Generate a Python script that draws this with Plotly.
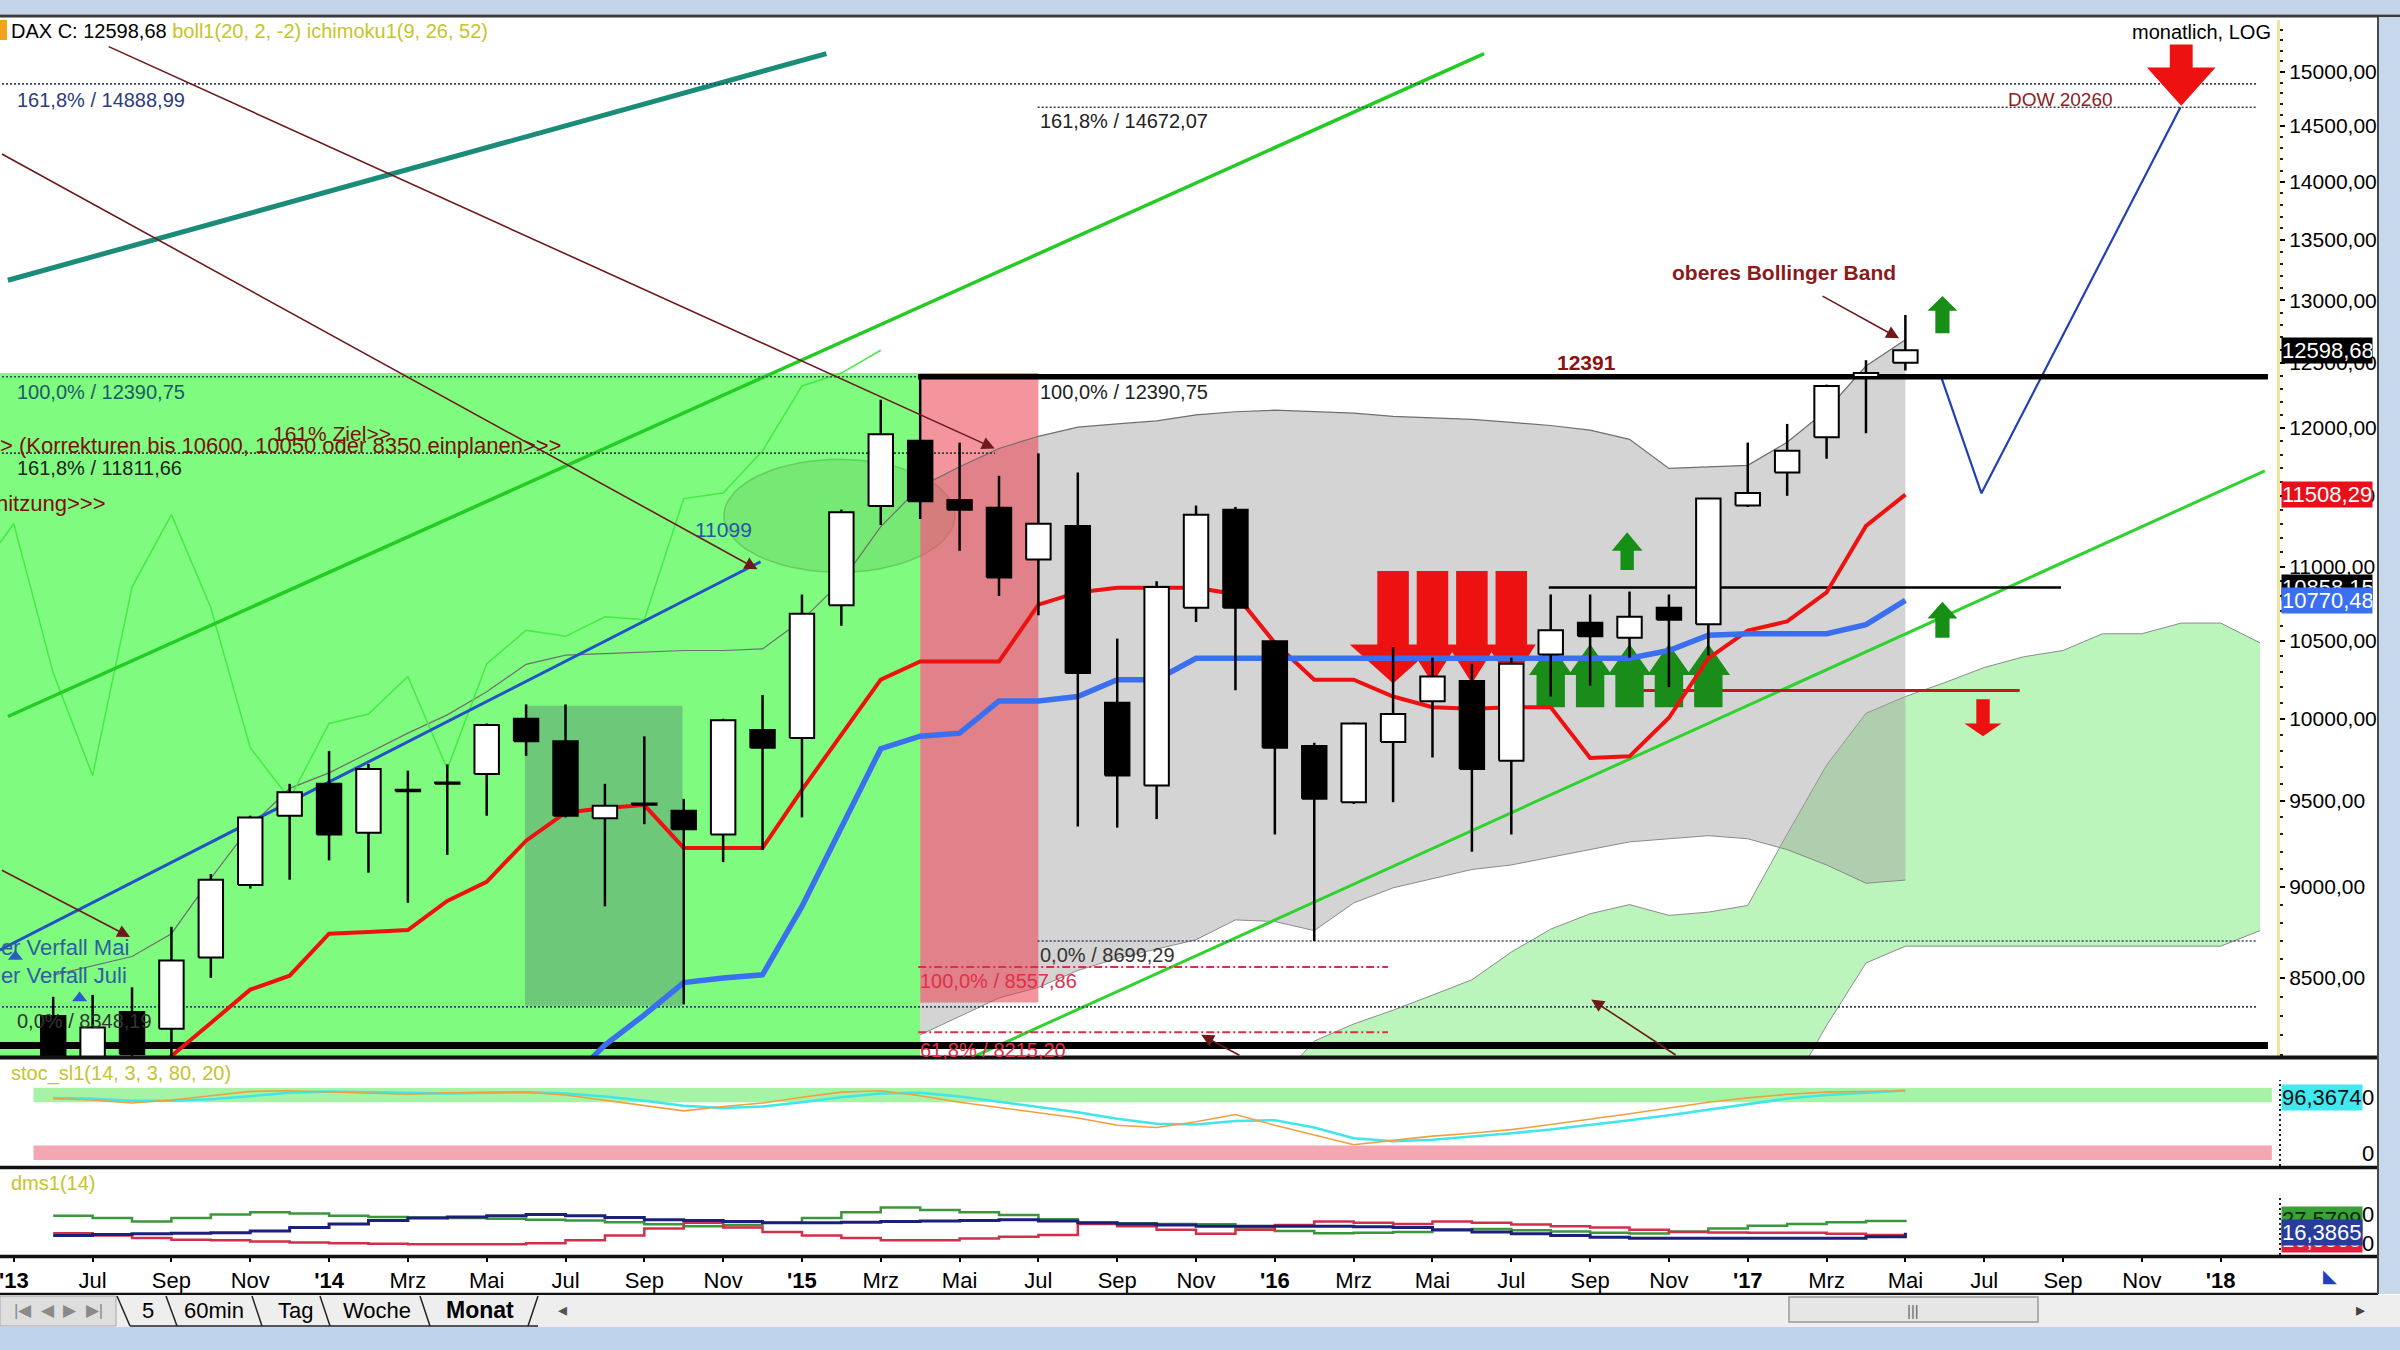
import math
import plotly.graph_objects as go

NARROW = "Liberation Sans Narrow, Arial Narrow, sans-serif"
SANS = "Liberation Sans, Arial, sans-serif"
L10 = math.log10

# ---------------- data ----------------
MONTHS = ["2013-06", "2013-07", "2013-08", "2013-09", "2013-10", "2013-11", "2013-12",
          "2014-01", "2014-02", "2014-03", "2014-04", "2014-05", "2014-06", "2014-07", "2014-08",
          "2014-09", "2014-10", "2014-11", "2014-12",
          "2015-01", "2015-02", "2015-03", "2015-04", "2015-05", "2015-06", "2015-07", "2015-08",
          "2015-09", "2015-10", "2015-11", "2015-12",
          "2016-01", "2016-02", "2016-03", "2016-04", "2016-05", "2016-06", "2016-07", "2016-08",
          "2016-09", "2016-10", "2016-11", "2016-12",
          "2017-01", "2017-02", "2017-03", "2017-04", "2017-05"]

OPEN = [8300, 7959, 8320, 8234, 8610, 9010, 9410,
        9600, 9310, 9565, 9608, 9660, 10000, 9860, 9395, 9483, 9440, 9300, 9930,
        9880, 10738, 11427, 11903, 11470, 11415, 11050, 11285, 10100, 9590, 10720, 11400,
        10497, 9830, 9490, 9855, 10110, 10240, 9740, 10410, 10620, 10520, 10720, 10610,
        11430, 11670, 11930, 12390, 12500]
HIGH = [8400, 8410, 8450, 8777, 9072, 9410, 9600,
        9800, 9720, 9680, 9718, 9970, 10090, 10090, 9600, 9890, 9510, 10000, 10150,
        10810, 11401, 12214, 12391, 11890, 11645, 11810, 11670, 10515, 10900, 11430, 11420,
        10500, 9850, 9975, 10460, 10390, 10350, 10390, 10810, 10810, 10830, 10810, 11481,
        11890, 12030, 12330, 12520, 12880]
LOW = [7655, 7870, 8073, 8094, 8500, 8990, 9040,
       9150, 9080, 8910, 9182, 9410, 9770, 9400, 8890, 9360, 8360, 9140, 9210,
       9400, 10600, 11291, 11334, 11110, 10800, 10670, 9346, 9340, 9390, 10625, 10180,
       9300, 8699, 9480, 9490, 9760, 9200, 9300, 10140, 10210, 10390, 10200, 10405,
       11420, 11500, 11770, 11960, 12440]
CLOSE = [7959, 8240, 8103, 8594, 9040, 9400, 9550,
         9300, 9690, 9555, 9600, 9960, 9860, 9410, 9469, 9475, 9330, 9990, 9820,
         10680, 11382, 11952, 11460, 11400, 10925, 11300, 10290, 9650, 10860, 11365, 10720,
         9820, 9510, 9970, 10029, 10268, 9690, 10350, 10570, 10530, 10660, 10640, 11480,
         11520, 11830, 12320, 12420, 12598.68]

# Ichimoku Tenkan (red) / Kijun (blue), aligned with MONTHS
TENKAN = [None, None, 7800, 8094, 8263, 8438, 8512,
          8739, 8748, 8759, 8920, 9028, 9264, 9428, 9455, 9473, 9222, 9222, 9222,
          9564, 9900, 10248, 10366, 10366, 10366, 10741, 10824, 10855, 10855, 10855, 10812,
          10486, 10248, 10248, 10140, 10072, 10062, 10072, 10072, 9757, 9767, 10006, 10386,
          10568, 10629, 10824, 11285, 11508.29]
KIJUN = [None, None, None, None, None, None, None,
         None, None, None, None, None, None, 7950, 8150, 8305, 8475, 8500, 8517,
         8890, 9347, 9814, 9891, 9910, 10112, 10112, 10140, 10248, 10248, 10386, 10386,
         10386, 10386, 10386, 10386, 10386, 10386, 10386, 10386, 10386, 10386, 10437, 10537,
         10547, 10547, 10547, 10608, 10770.48]
# Bollinger bands
BB_UP = [8515, 8565, 8615, 8739, 9047, 9347, 9573,
         9666, 9786, 9910, 10024, 10170, 10347, 10407, 10417, 10427, 10437, 10437, 10447,
         10638, 10897, 11280, 11565, 11711, 11846, 11937, 12006, 12030, 12053, 12099, 12122,
         12134, 12122, 12111, 12087, 12076, 12064, 12041, 12018, 11983, 11914, 11699, 11711,
         11722, 11892, 12134, 12475, 12681]
BB_LOW = [None] * 22 + [8202, 8298, 8394, 8450, 8540, 8605, 8655, 8706, 8815,
                        8806, 8756, 8909, 8994, 9047, 9098, 9124, 9168, 9212, 9257, 9275, 9293,
                        9275, 9212, 9124, 9020, 9038]

# Ichimoku cloud (projected)
CLOUD_MONTHS = ["2016-01", "2016-02", "2016-03", "2016-04", "2016-05", "2016-06", "2016-07",
                "2016-08", "2016-09", "2016-10", "2016-11", "2016-12",
                "2017-01", "2017-02", "2017-03", "2017-04", "2017-05", "2017-06", "2017-07",
                "2017-08", "2017-09", "2017-10", "2017-11", "2017-12", "2018-01", "2018-02"]
CLOUD_HI = [7950, 8170, 8258, 8330, 8409, 8490, 8639, 8764, 8849, 8900, 8840, 8858,
            8895, 9302, 9713, 10034, 10140, 10229, 10326, 10396, 10437, 10547, 10547, 10618, 10618, 10487]
CLOUD_LO = [7900] * 14 + [8250, 8580, 8671, 8671, 8671, 8671, 8671, 8671, 8671, 8671, 8671, 8756]

# Stochastic
STOCH_K = [85, 83, 79, 83, 89, 95, 96, 94, 92, 91, 93, 94, 94, 90, 83, 75, 68, 74, 79,
           87, 94, 96, 89, 80, 73, 66, 58, 48, 45, 53, 63, 48, 35, 21, 27, 33, 37, 42, 49,
           56, 64, 72, 80, 86, 91, 94, 95, 96]
STOCH_D = [86, 85, 82, 82, 84, 89, 93, 95, 94, 92, 92, 93, 94, 92, 88, 82, 75, 72, 74,
           80, 87, 92, 93, 88, 81, 73, 66, 57, 50, 49, 54, 55, 45, 30, 26, 28, 32, 37, 42,
           48, 55, 62, 70, 78, 85, 90, 93, 96.37]
# DMS
DMS_PLUS = [31, 29, 26, 29, 32, 34, 33, 31, 30, 29.5, 29, 28.5, 27.6, 27, 25.5, 23.7, 22, 23, 25,
            29, 34, 38, 36, 34, 31.6, 28, 25, 24.5, 24, 23.7, 21, 18, 16, 16.5, 17, 18.5, 19.7,
            18.5, 17.5, 16.5, 15.8, 17.5, 20, 22.5, 24, 25.5, 26.5, 27.57]
DMS_ADX = [14, 15, 15.5, 16, 16.5, 18, 21, 24, 27, 29, 30, 31, 32, 31, 29.5, 27.6, 27, 26, 25,
           25, 25.5, 26, 26.5, 27, 27.6, 26.5, 25, 24, 23, 22, 22, 22, 22, 21.5, 21, 19, 17,
           15.5, 14, 12.5, 11.8, 11.8, 11.8, 11.8, 11.8, 11.8, 13, 16.39]
DMS_MINUS = [16, 14, 12, 10.5, 10, 9, 8, 7.5, 7, 6.6, 6.6, 6.6, 7.5, 10, 14, 20, 25, 21, 17,
             14, 12, 10, 10, 11.5, 13, 14.5, 24, 22, 19, 15.5, 19, 23, 26, 25, 24, 26, 25,
             23.5, 22, 21, 19, 17, 16.7, 16.5, 16.4, 15.5, 14.5, 13.7]

TICK_MONTHS = ["2013-05", "2013-07", "2013-09", "2013-11", "2014-01", "2014-03", "2014-05",
               "2014-07", "2014-09", "2014-11", "2015-01", "2015-03", "2015-05", "2015-07",
               "2015-09", "2015-11", "2016-01", "2016-03", "2016-05", "2016-07", "2016-09",
               "2016-11", "2017-01", "2017-03", "2017-05", "2017-07", "2017-09", "2017-11", "2018-01"]
TICK_TEXT = ["<b>'13</b>", "Jul", "Sep", "Nov", "<b>'14</b>", "Mrz", "Mai", "Jul", "Sep", "Nov",
             "<b>'15</b>", "Mrz", "Mai", "Jul", "Sep", "Nov", "<b>'16</b>", "Mrz", "Mai", "Jul",
             "Sep", "Nov", "<b>'17</b>", "Mrz", "Mai", "Jul", "Sep", "Nov", "<b>'18</b>"]
PRICE_TICKS = [8500, 9000, 9500, 10000, 10500, 11000, 11500, 12000, 12500, 13000, 13500,
               14000, 14500, 15000]

# drawn analysis objects (month index, price)
GREEN_ZONE_M, GREEN_ZONE_V = [3.0, 27.0], [7900, 12420]
DARK_ZONE_M, DARK_ZONE_V = [16.97, 20.97], [8353, 10082]
RED_ZONE_M, RED_ZONE_V = [27.0, 30.0], [8370, 12420]
ELLIPSE_M, ELLIPSE_V = [22.02, 27.88], [10961, 11766]
TEAL_M, TEAL_V = [3.85, 24.62], [13164, 15174]
GREEN_UP_M, GREEN_UP_V = [3.85, 41.31], [10014, 15174]
GREEN_LOW_M, GREEN_LOW_V = [27.73, 61.12], [8034, 11681]
BLUE_M, BLUE_V = [3.0, 22.95], [8580, 11034]
FORECAST_M, FORECAST_V = [52.89, 53.93, 58.98], [12405, 11518, 14672]

ARW_M = [59.0, 52.94, 44.94, 52.94, 53.97]
ARW_TAIL = [15261, 12733, 10977, 10520, 10123]
ARW_BASE = [15043, 12914, 11111, 10648, 9970]
ARW_TIP = [14687, 13034, 11241, 10761, 9890]
ARW_HEAD = [0.87, 0.38, 0.39, 0.38, 0.47]
ARW_SHAFT = [0.29, 0.18, 0.17, 0.18, 0.17]
ARW_COLOR = ["#ee1111", "#178f17", "#178f17", "#178f17", "#ee1111"]
RED_BLOCK_M = [39, 40, 41, 42]
GREEN_BLOCK_M = [43, 44, 45, 46, 47]


def midx(s):
    y, mo = s.split("-")
    return (int(y) - 2013) * 12 + int(mo) - 1


M = [midx(s) for s in MONTHS]
CM = [midx(s) for s in CLOUD_MONTHS]
TM = [midx(s) for s in TICK_MONTHS]

X0, X1 = 3.65, 61.43
Y0, Y1 = 8094, 15497

fig = go.Figure()


def line(xs, ys, color, width, dash=None, xa="x", ya="y", shape="linear"):
    fig.add_trace(go.Scatter(x=xs, y=ys, mode="lines", xaxis=xa, yaxis=ya, hoverinfo="skip",
                             line=dict(color=color, width=width, dash=dash, shape=shape)))


def zone(ms, vs, color):
    fig.add_trace(go.Scatter(x=[ms[0], ms[1], ms[1], ms[0], ms[0]],
                             y=[vs[0], vs[0], vs[1], vs[1], vs[0]], mode="lines",
                             line=dict(width=0), fill="toself", fillcolor=color, hoverinfo="skip"))


# zones
zone(GREEN_ZONE_M, GREEN_ZONE_V, "#7ffb7f")
zone(DARK_ZONE_M, DARK_ZONE_V, "#6ec87a")
# ellipse outline (geometry of the drawn marker)
cx = sum(ELLIPSE_M) / 2
rx = (ELLIPSE_M[1] - ELLIPSE_M[0]) / 2
cy = (L10(ELLIPSE_V[0]) + L10(ELLIPSE_V[1])) / 2
ry = (L10(ELLIPSE_V[1]) - L10(ELLIPSE_V[0])) / 2
ex = [cx + rx * math.cos(2 * math.pi * k / 72) for k in range(73)]
ey = [10 ** (cy + ry * math.sin(2 * math.pi * k / 72)) for k in range(73)]
fig.add_trace(go.Scatter(x=ex, y=ey, mode="lines", line=dict(color="rgba(80,160,70,0.45)", width=1.5),
                         fill="toself", fillcolor="rgba(95,185,85,0.28)", hoverinfo="skip"))

# Ichimoku cloud
fig.add_trace(go.Scatter(x=CM, y=CLOUD_LO, mode="lines", line=dict(color="#8c8c8c", width=1),
                         hoverinfo="skip"))
fig.add_trace(go.Scatter(x=CM, y=CLOUD_HI, mode="lines", line=dict(color="#8c8c8c", width=1),
                         fill="tonexty", fillcolor="rgba(150,240,150,0.65)", hoverinfo="skip"))
# Bollinger fill
bm = [m for m, v in zip(M, BB_LOW) if v is not None]
bl = [v for v in BB_LOW if v is not None]
bu = [u for u, v in zip(BB_UP, BB_LOW) if v is not None]
fig.add_trace(go.Scatter(x=bm, y=bl, mode="lines", line=dict(color="#8a8a8a", width=1),
                         hoverinfo="skip"))
fig.add_trace(go.Scatter(x=bm, y=bu, mode="lines", line=dict(color="#8a8a8a", width=0),
                         fill="tonexty", fillcolor="rgba(160,160,160,0.45)", hoverinfo="skip"))
# red zone
zone(RED_ZONE_M, RED_ZONE_V, "rgba(235,60,75,0.55)")
# upper band line & chikou
line(M, BB_UP, "#6f6f6f", 1.2)
line([m - 26 for m in M], CLOSE, "#45ea45", 1.5)
# trend lines
line(TEAL_M, TEAL_V, "#1b8c78", 5)
line(GREEN_UP_M, GREEN_UP_V, "#22cc22", 3.5)
line(GREEN_LOW_M, GREEN_LOW_V, "#2fd22f", 3)
line(BLUE_M, BLUE_V, "#2352c6", 3)
line(FORECAST_M, FORECAST_V, "#2142b0", 2.2)
# horizontal levels
DOT = "2px,2px"
line([3.7, 60.9], [14888.99, 14888.99], "#3a3f60", 1.6, DOT)
line([29.98, 60.9], [14672.07, 14672.07], "#3a3f60", 1.6, DOT)
line([3.7, 27], [12390.75, 12390.75], "#2f4f50", 1.6, DOT)
line([3.7, 28.9], [11811.66, 11811.66], "#2f3f40", 1.6, DOT)
line([29.98, 60.9], [8699.29, 8699.29], "#3a3f60", 1.6, DOT)
line([3.7, 60.9], [8347, 8347], "#3a3f60", 1.6, DOT)
line([26.95, 38.87], [8557.86, 8557.86], "#d8304a", 2, "8px,3px,2px,3px")
line([26.95, 38.87], [8215.2, 8215.2], "#d8304a", 2, "8px,3px,2px,3px")
line([26.95, 61.2], [12391, 12391], "#000000", 5.5)
line([X0, 61.2], [8147, 8147], "#000000", 7)
line([42.95, 55.95], [10858.15, 10858.15], "#000000", 2.5)
line([45.0, 54.9], [10179, 10179], "#c8161b", 3)


def arrow_poly(mc, tail, base, tip, hw, sw):
    return ([mc - sw, mc + sw, mc + sw, mc + hw, mc, mc - hw, mc - sw, mc - sw, None],
            [tail, tail, base, base, tip, base, base, tail, None])


def add_arrows(ms, tails, bases, tips, hws, sws, color):
    xs, ys = [], []
    for mc, t, b, p, h, s in zip(ms, tails, bases, tips, hws, sws):
        ax, ay = arrow_poly(mc, t, b, p, h, s)
        xs += ax
        ys += ay
    fig.add_trace(go.Scatter(x=xs, y=ys, mode="lines", line=dict(width=0), fill="toself",
                             fillcolor=color, hoverinfo="skip"))


n_r = len(RED_BLOCK_M)
add_arrows(RED_BLOCK_M, [10971] * n_r, [10476] * n_r, [10223] * n_r,
           [1.1, 0.62, 0.62, 0.62], [0.40] * n_r, "#ee1111")
n_g = len(GREEN_BLOCK_M)
add_arrows(GREEN_BLOCK_M, [10072] * n_g, [10278] * n_g, [10480] * n_g,
           [0.55] * n_g, [0.36] * n_g, "#1a8c1a")

# Ichimoku lines
line(M, TENKAN, "#ee1111", 4)
line(M, KIJUN, "#3a6ff0", 5.5)

# candles: wicks then bodies (bodies as filled polygons so they stay above fills)
wx, wy = [], []
for m, h, l in zip(M, HIGH, LOW):
    wx += [m, m, None]
    wy += [l, h, None]
fig.add_trace(go.Scatter(x=wx, y=wy, mode="lines", line=dict(color="#000000", width=2.5),
                         hoverinfo="skip"))
HALF = 0.31
for rising, fillc in [(True, "#ffffff"), (False, "#000000")]:
    bx, by = [], []
    for m, o, c in zip(M, OPEN, CLOSE):
        if (c >= o) != rising:
            continue
        lo, hi = min(o, c), max(o, c)
        if hi - lo < 8:
            hi = lo + 8
        bx += [m - HALF, m + HALF, m + HALF, m - HALF, m - HALF, None]
        by += [lo, lo, hi, hi, lo, None]
    fig.add_trace(go.Scatter(x=bx, y=by, mode="lines", fill="toself", fillcolor=fillc,
                             line=dict(color="#000000", width=2), hoverinfo="skip"))

# single arrows
for i in range(len(ARW_M)):
    add_arrows([ARW_M[i]], [ARW_TAIL[i]], [ARW_BASE[i]], [ARW_TIP[i]], [ARW_HEAD[i]],
               [ARW_SHAFT[i]], ARW_COLOR[i])

fig.add_trace(go.Scatter(x=[4.04, 5.67], y=[8615, 8394], mode="markers",
                         marker=dict(symbol="triangle-up", size=13, color="#2a5cc8"),
                         hoverinfo="skip"))

# stochastic
line(M, STOCH_D, "#3fe6ea", 2.5, xa="x2", ya="y2")
line(M, STOCH_K, "#f0a040", 1.6, xa="x2", ya="y2")
# dms
line(M, DMS_PLUS, "#3c963c", 2.5, xa="x3", ya="y3", shape="hv")
line(M, DMS_MINUS, "#d0304c", 2.5, xa="x3", ya="y3", shape="hv")
line(M, DMS_ADX, "#1c2078", 3, xa="x3", ya="y3", shape="hv")


# ---------------- layout helpers ----------------
def P(xf):
    return xf / 2400.0


def Q(yf):
    return 1 - yf / 1350.0


shapes = []
# stoch bands
shapes.append(dict(type="rect", xref="x2", yref="y2", x0=4.5, x1=61.3, y0=80, y1=100,
                   fillcolor="#a6f3a6", line=dict(width=0), layer="below"))
shapes.append(dict(type="rect", xref="x2", yref="y2", x0=4.5, x1=61.3, y0=0, y1=20,
                   fillcolor="#f4a7b3", line=dict(width=0), layer="below"))
# window chrome
shapes.append(dict(type="rect", xref="paper", yref="paper", x0=0, x1=1, y0=Q(14), y1=1,
                   fillcolor="#c4d5ea", line=dict(width=0)))
shapes.append(dict(type="line", xref="paper", yref="paper", x0=0, x1=1, y0=Q(16), y1=Q(16),
                   line=dict(color="#3a3a3a", width=3)))
shapes.append(dict(type="rect", xref="paper", yref="paper", x0=0, x1=P(7), y0=Q(40), y1=Q(20),
                   fillcolor="#f3a21c", line=dict(width=0)))
for yy, ww in [(1057.5, 4), (1167.5, 3.5), (1256.5, 3.5), (1294, 2.5)]:
    shapes.append(dict(type="line", xref="paper", yref="paper", x0=0, x1=P(2378), y0=Q(yy), y1=Q(yy),
                       line=dict(color="#111111", width=ww)))
shapes.append(dict(type="rect", xref="paper", yref="paper", x0=P(2378), x1=1, y0=Q(1294), y1=Q(17),
                   fillcolor="#c8d8ec", line=dict(width=0)))
shapes.append(dict(type="line", xref="paper", yref="paper", x0=P(2378), x1=P(2378), y0=Q(1294),
                   y1=Q(17), line=dict(color="#4a4a4a", width=2)))
for y_a, y_b in [(1080, 1166), (1196, 1255)]:
    shapes.append(dict(type="line", xref="paper", yref="paper", x0=P(2280), x1=P(2280), y0=Q(y_b),
                       y1=Q(y_a), line=dict(color="#222222", width=2, dash="2px,3px")))
# tab bar
shapes.append(dict(type="rect", xref="paper", yref="paper", x0=0, x1=1, y0=Q(1327), y1=Q(1295),
                   fillcolor="#eeeeee", line=dict(width=0)))
shapes.append(dict(type="rect", xref="paper", yref="paper", x0=0, x1=1, y0=0, y1=Q(1327),
                   fillcolor="#bed3ec", line=dict(width=0)))
shapes.append(dict(type="rect", xref="paper", yref="paper", x0=0, x1=P(116), y0=Q(1326), y1=Q(1296),
                   fillcolor="#dedede", line=dict(color="#a8a8a8", width=1)))
for xa_, xb_ in [(117, 130), (166, 177), (252, 262), (320, 330), (420, 430), (538, 528)]:
    shapes.append(dict(type="line", xref="paper", yref="paper", x0=P(xa_), x1=P(xb_), y0=Q(1296),
                       y1=Q(1326), line=dict(color="#222222", width=1.5)))
shapes.append(dict(type="line", xref="paper", yref="paper", x0=P(130), x1=P(538), y0=Q(1326),
                   y1=Q(1326), line=dict(color="#222222", width=1.5)))
shapes.append(dict(type="rect", xref="paper", yref="paper", x0=P(1789), x1=P(2038), y0=Q(1322),
                   y1=Q(1297), fillcolor="#e6e6e6", line=dict(color="#9a9a9a", width=1.5)))

ann = []


def txt(m, v, s, color, size=20, family=NARROW, xanchor="left", xshift=0):
    ann.append(dict(x=m, y=L10(v), xref="x", yref="y", text=s, showarrow=False,
                    xanchor=xanchor, yanchor="middle", xshift=xshift,
                    font=dict(color=color, size=size, family=family)))


def ptxt(xf, yf, s, color="#000000", size=21, family=NARROW, xanchor="left"):
    ann.append(dict(x=P(xf), y=Q(yf), xref="paper", yref="paper", text=s, showarrow=False,
                    xanchor=xanchor, yanchor="middle", font=dict(color=color, size=size, family=family)))


def darrow(m0, v0, m1, v1, color="#6e1a1a", width=1.6):
    ann.append(dict(x=m1, y=L10(v1), ax=m0, ay=L10(v0), xref="x", yref="y", axref="x", ayref="y",
                    text="", showarrow=True, arrowhead=2, arrowsize=1.6, arrowwidth=width,
                    arrowcolor=color, standoff=0))


DRED = "#7a1010"
# chart texts
txt(4.04, 14740, "161,8% / 14888,99", "#2b3d7c")
txt(29.98, 14546, "161,8% / 14672,07", "#222222")
txt(54.55, 14743, "DOW 20260", "#8b2222", 19, SANS)
txt(4.04, 12274, "100,0% / 12390,75", "#1d5a68")
txt(29.98, 12274, "100,0% / 12390,75", "#222222")
txt(10.52, 11960, "161% Ziel>>", DRED, 21, SANS)
txt(3.7, 11868, "&gt; (Korrekturen bis 10600, 10050 oder 8350 einplanen&gt;&gt;&gt;", DRED, 22, SANS,
    xshift=-4)
txt(4.04, 11699, "161,8% / 11811,66", "#222222")
txt(3.7, 11443, "hitzung&gt;&gt;&gt;", DRED, 22, SANS, xshift=-8)
txt(21.24, 11259, "11099", "#2a55a5", 21)
txt(48.93, 13228, "<b>oberes Bollinger Band</b>", "#8b1a1a", 21, SANS, xanchor="center")
txt(43.92, 12500, "<b>12391</b>", "#8b1313", 21, xanchor="center")
txt(29.98, 8622, "0,0% / 8699,29", "#333333")
txt(26.95, 8483, "100,0% / 8557,86", "#e0304a")
txt(26.95, 8124, "61,8% / 8215,20", "#e0304a")
txt(3.7, 8664, "ier Verfall Mai", "#2f5f9f", 22, SANS, xshift=-8)
txt(3.7, 8515, "ier Verfall Juli", "#2f5f9f", 22, SANS, xshift=-8)
txt(4.04, 8274, "0,0% / 8348,19", "#333333")

# thin arrows
darrow(6.37, 15247, 28.89, 11846)
darrow(3.66, 14256, 22.87, 10982)
darrow(3.66, 9098, 6.95, 8721)
darrow(35.14, 8094, 34.13, 8202)
darrow(46.21, 8094, 44.03, 8386)
darrow(49.86, 13040, 51.84, 12693)

# header / labels
ptxt(9, 31, "DAX C: 12598,68 <span style='color:#c6c42c'>boll1(20, 2, -2) ichimoku1(9, 26, 52)</span>",
     size=20)
ptxt(2273, 32, "monatlich, LOG", size=20, family=SANS, xanchor="right")
ptxt(9, 1073, "stoc_sl1(14, 3, 3, 80, 20)", "#c6c42c", 20)
ptxt(9, 1183, "dms1(14)", "#c6c42c", 20)

# right axis value boxes
for v, bg, fc in [(12598.68, "#000000", "#ffffff"), (11508.29, "#e8101a", "#ffffff"),
                  (10858.15, "#000000", "#ffffff"), (10770.48, "#3a6ff0", "#ffffff")]:
    ann.append(dict(x=P(2281), y=L10(v), xref="paper", yref="y", text=f"{v:.2f}".replace(".", ","),
                    showarrow=False, xanchor="left", yanchor="middle", bgcolor=bg, borderpad=0,
                    width=90, align="left", font=dict(color=fc, size=22, family=NARROW)))
ann.append(dict(x=P(2281), y=86, xref="paper", yref="y2", text="96,3674", showarrow=False,
                xanchor="left", yanchor="middle", bgcolor="#40e8f0", borderpad=0,
                font=dict(color="#111111", size=22, family=NARROW)))
for v, bg, fc, t in [(10.5, "#e0203c", "#ffffff", "16,3865"), (27.57, "#3aa03a", "#0a2a0a", "27,5709"),
                     (16.39, "#283c9c", "#ffffff", "16,3865")]:
    ann.append(dict(x=P(2281), y=v, xref="paper", yref="y3", text=t, showarrow=False,
                    xanchor="left", yanchor="middle", bgcolor=bg, borderpad=0,
                    font=dict(color=fc, size=22, family=NARROW)))
for yf in [1097, 1153, 1214, 1243]:
    ptxt(2376, yf, "0", size=22, xanchor="right")

# tab bar texts
ptxt(58, 1310, "|◀  ◀  ▶  ▶|", "#8a8a8a", 17, SANS, xanchor="center")
ptxt(148, 1310, "5", size=22, xanchor="center")
ptxt(214, 1310, "60min", size=22, xanchor="center")
ptxt(295, 1310, "Tag", size=22, xanchor="center")
ptxt(377, 1310, "Woche", size=22, xanchor="center")
ptxt(480, 1310, "<b>Monat</b>", size=23, xanchor="center")
ptxt(562, 1310, "◂", "#555555", 18, SANS, xanchor="center")
ptxt(1913, 1310, "|||", "#666666", 15, SANS, xanchor="center")
ptxt(2360, 1310, "▸", "#444444", 18, SANS, xanchor="center")
ptxt(2330, 1276, "◣", "#2040c0", 18, SANS, xanchor="center")

MINOR = [v for v in range(8100, 15500, 100) if v % 500 != 0]

fig.update_layout(
    width=2400, height=1350, margin=dict(l=0, r=0, t=0, b=0),
    paper_bgcolor="#ffffff", plot_bgcolor="#ffffff", showlegend=False, hovermode=False,
    shapes=shapes, annotations=ann,
    xaxis=dict(domain=[0, 0.94875], range=[X0, X1], anchor="y", showticklabels=False,
               showgrid=False, zeroline=False, ticks=""),
    yaxis=dict(domain=[1 - 1056 / 1350, 1 - 20 / 1350], type="log", range=[L10(Y0), L10(Y1)],
               side="right", anchor="x", showgrid=False, zeroline=False,
               tickvals=PRICE_TICKS, ticktext=[f"{v},00" for v in PRICE_TICKS],
               ticks="outside", ticklen=5, tickwidth=2, tickcolor="#000000",
               tickfont=dict(family=NARROW, size=21, color="#000000"),
               showline=True, linecolor="#efe49a", linewidth=3,
               minor=dict(tickvals=MINOR, ticks="outside", ticklen=3, tickwidth=2, tickcolor="#222222")),
    xaxis2=dict(domain=[0, 0.94875], matches="x", anchor="y2", showticklabels=False,
                showgrid=False, zeroline=False, ticks=""),
    yaxis2=dict(domain=[1 - 1166 / 1350, 1 - 1059 / 1350], range=[-8.5, 140], anchor="x2",
                showticklabels=False, showgrid=False, zeroline=False, ticks=""),
    xaxis3=dict(domain=[0, 0.94875], matches="x", anchor="y3", showgrid=False, zeroline=False,
                tickvals=TM, ticktext=TICK_TEXT, ticks="outside", ticklen=6, tickwidth=2,
                ticklabeloverflow="allow",
                tickcolor="#000000", tickfont=dict(family=NARROW, size=22, color="#000000")),
    yaxis3=dict(domain=[1 - 1255 / 1350, 1 - 1169 / 1350], range=[-2.6, 71], anchor="x3",
                showticklabels=False, showgrid=False, zeroline=False, ticks=""),
)

fig.write_html("out.html", config={"displayModeBar": False},
               post_script="document.body.style.margin='0';")
